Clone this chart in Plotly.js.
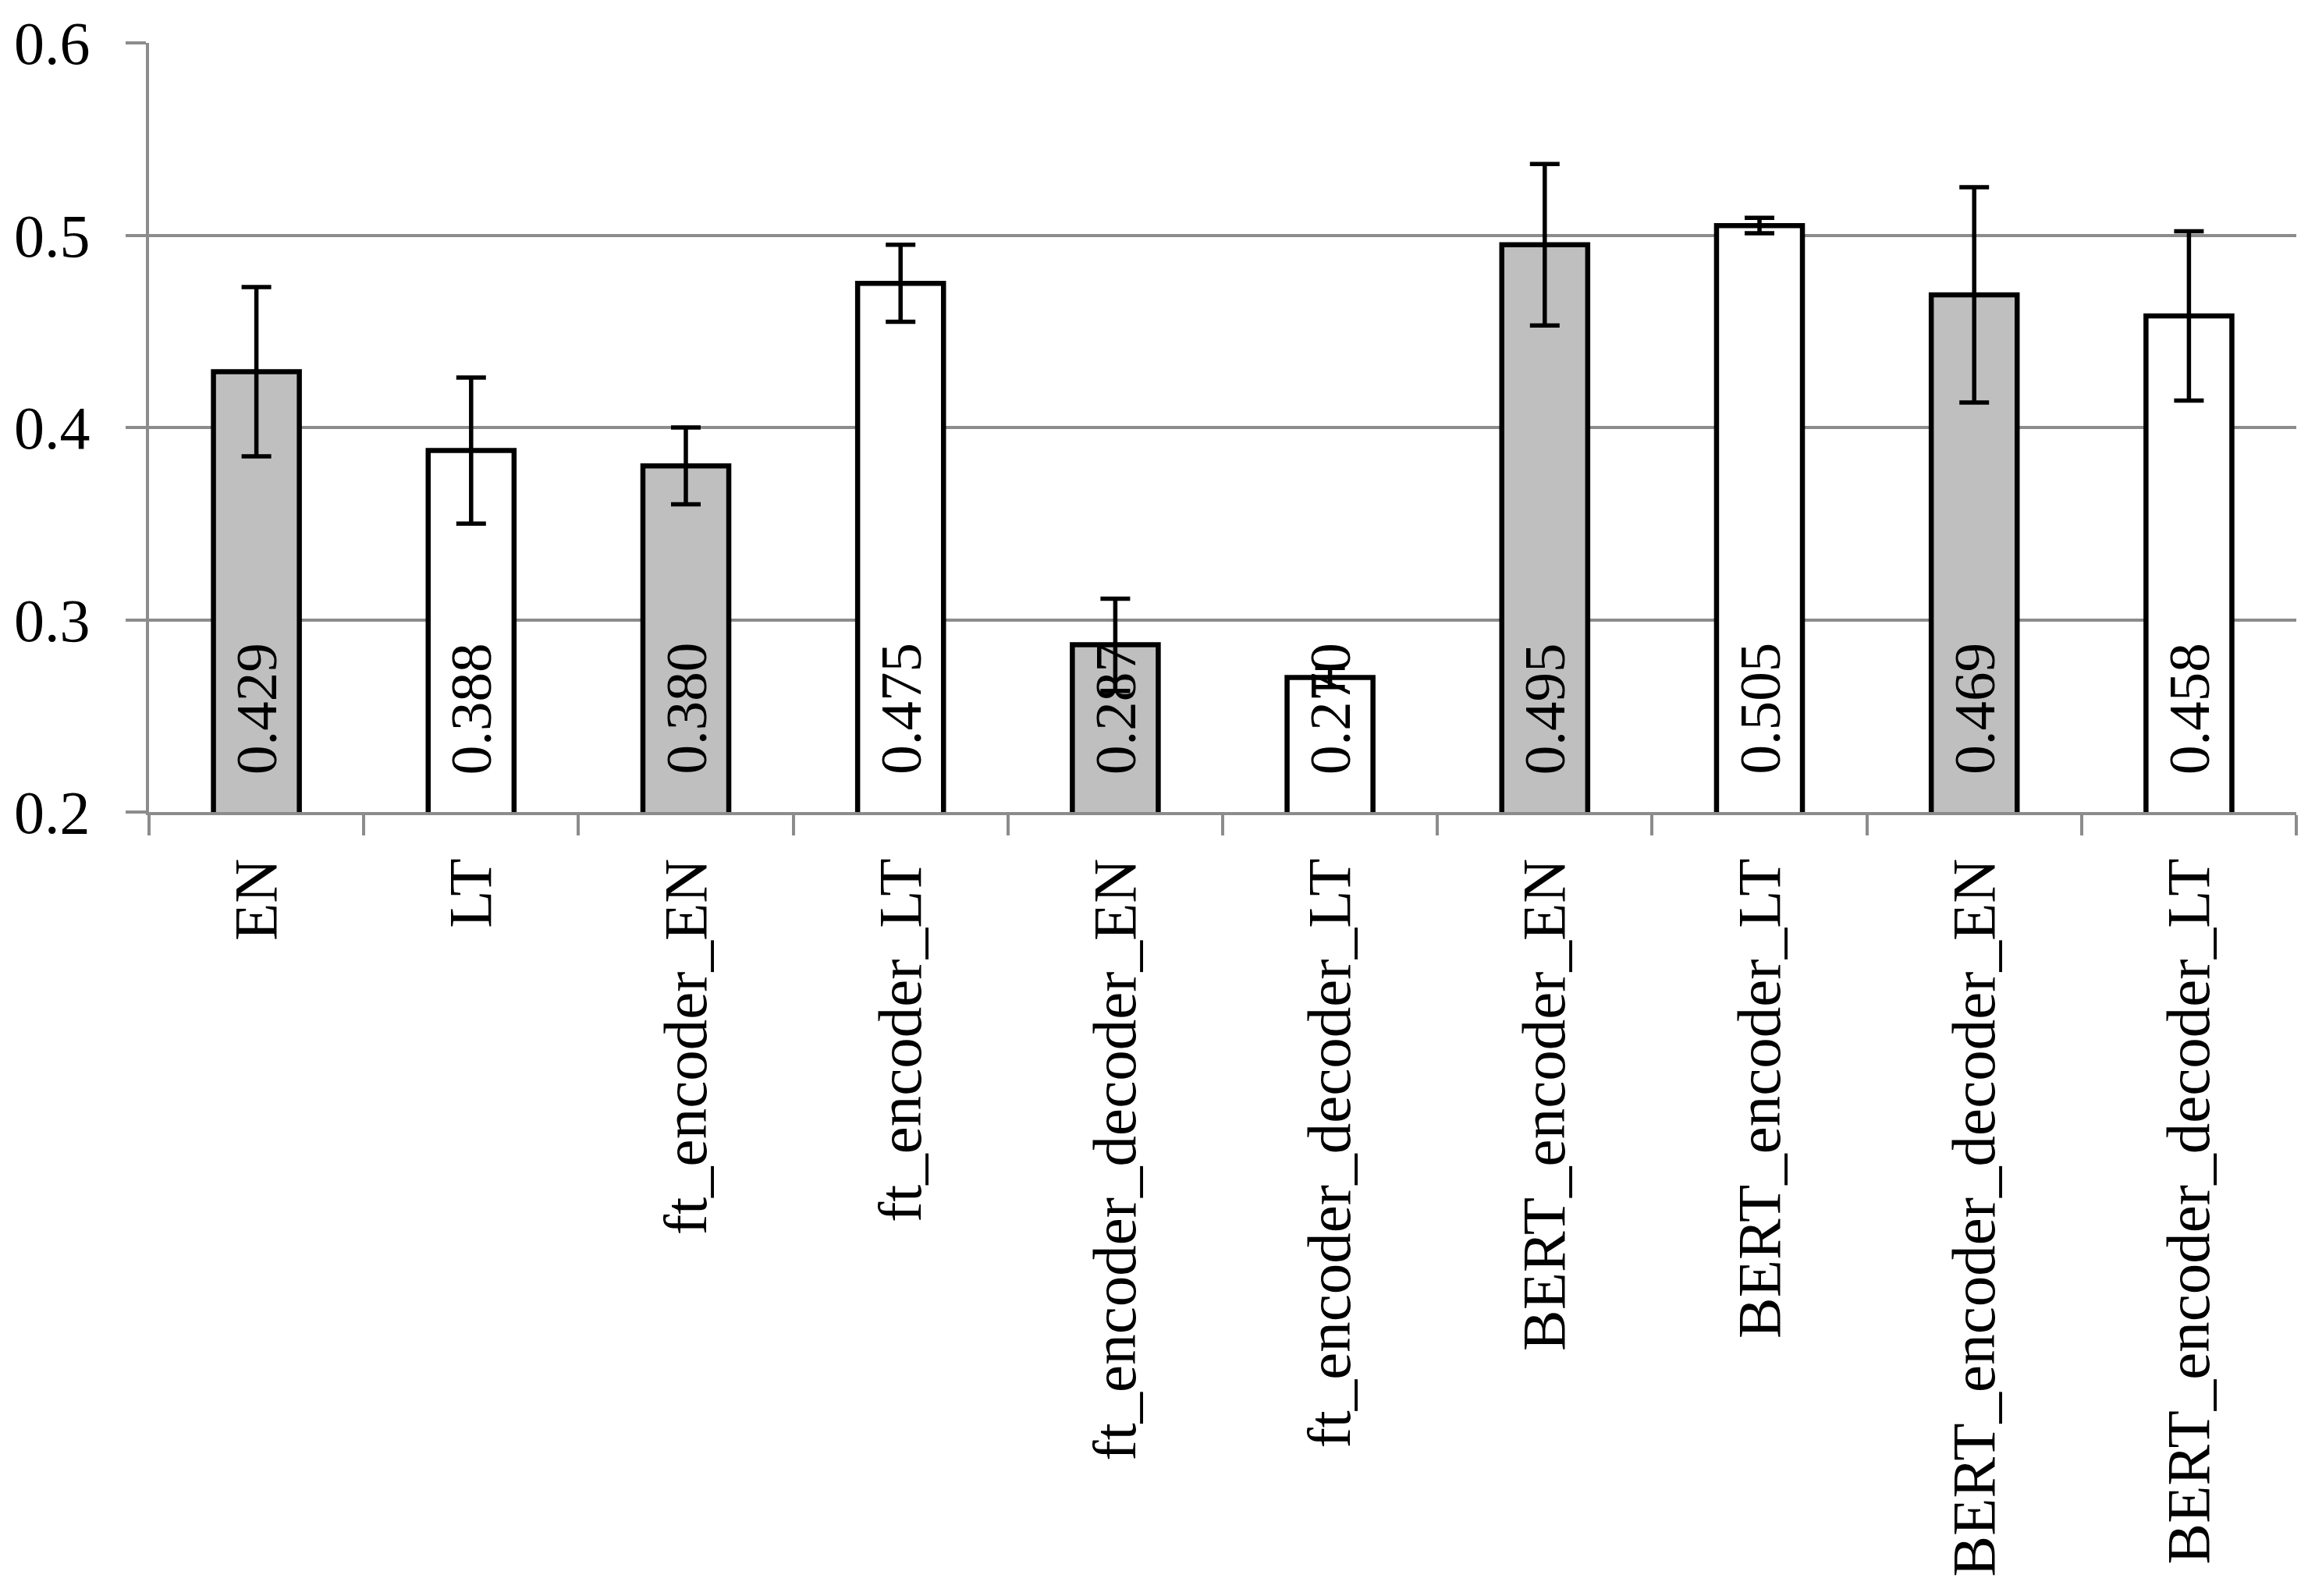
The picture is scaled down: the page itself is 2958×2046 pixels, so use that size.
<!DOCTYPE html>
<html>
<head>
<meta charset="utf-8">
<script src="https://cdn.plot.ly/plotly-3.0.1.min.js"></script>
<style>
  html, body { margin: 0; padding: 0; background: #ffffff; }
  #chart { width: 2958px; height: 2046px; }
</style>
</head>
<body>
<div id="chart"></div>
<script>
// ---- data ----
const categories = [
  "EN", "LT", "ft_encoder_EN", "ft_encoder_LT",
  "ft_encoder_decoder_EN", "ft_encoder_decoder_LT",
  "BERT_encoder_EN", "BERT_encoder_LT",
  "BERT_encoder_decoder_EN", "BERT_encoder_decoder_LT"
];
const values = [0.429, 0.388, 0.380, 0.475, 0.287, 0.270, 0.495, 0.505, 0.469, 0.458];
const errors = [0.044, 0.038, 0.020, 0.020, 0.024, 0.005, 0.042, 0.004, 0.056, 0.044];
const valueLabels = ["0.429", "0.388", "0.380", "0.475", "0.287", "0.270", "0.495", "0.505", "0.469", "0.458"];
const yTickVals = [0.2, 0.3, 0.4, 0.5, 0.6];
const yTickText = ["0.2", "0.3", "0.4", "0.5", "0.6"];

// ---- styles ----
const FONT = "'Liberation Serif', 'DejaVu Serif', serif";
const GRAY_FILL = "#bfbfbf";
const WHITE_FILL = "#ffffff";
const AXIS_GRAY = "#8c8c8c";
const fillColors = categories.map((c, i) => (i % 2 === 0 ? GRAY_FILL : WHITE_FILL));

const trace = {
  type: "bar",
  x: categories,
  y: values,
  width: 0.4,
  marker: {
    color: fillColors,
    line: { color: "#000000", width: 6.5 }
  },
  error_y: {
    type: "data",
    array: errors,
    visible: true,
    color: "#000000",
    thickness: 5.5,
    width: 19
  },
  hoverinfo: "none",
  showlegend: false
};

const annotations = categories.map((c, i) => ({
  x: c,
  y: 0.2,
  xref: "x",
  yref: "y",
  text: valueLabels[i],
  textangle: -90,
  showarrow: false,
  xanchor: "center",
  yanchor: "bottom",
  yshift: 46,
  font: { family: FONT, size: 75, color: "#000000" }
}));

const layout = {
  width: 2958,
  height: 2046,
  margin: { l: 191, r: 15, t: 55, b: 1005, pad: 0 },
  paper_bgcolor: "#ffffff",
  plot_bgcolor: "#ffffff",
  font: { family: FONT, size: 78, color: "#000000" },
  bargap: 0.6,
  xaxis: {
    type: "category",
    tickangle: -90,
    tickson: "boundaries",
    ticks: "outside",
    ticklen: 26,
    tickwidth: 4,
    tickcolor: AXIS_GRAY,
    showline: true,
    linecolor: AXIS_GRAY,
    linewidth: 4,
    showgrid: false,
    zeroline: false,
    ticklabelstandoff: 24,
    tickfont: { family: FONT, size: 79, color: "#000000" }
  },
  yaxis: {
    range: [0.2, 0.6],
    tickvals: yTickVals,
    ticktext: yTickText,
    ticks: "outside",
    ticklen: 26,
    tickwidth: 4,
    tickcolor: AXIS_GRAY,
    showline: true,
    linecolor: AXIS_GRAY,
    linewidth: 4,
    showgrid: true,
    gridcolor: AXIS_GRAY,
    gridwidth: 4,
    zeroline: false,
    ticklabelstandoff: 30,
    tickfont: { family: FONT, size: 78, color: "#000000" }
  },
  annotations: annotations
};

Plotly.newPlot("chart", [trace], layout, { displayModeBar: false, staticPlot: true });
</script>
</body>
</html>
